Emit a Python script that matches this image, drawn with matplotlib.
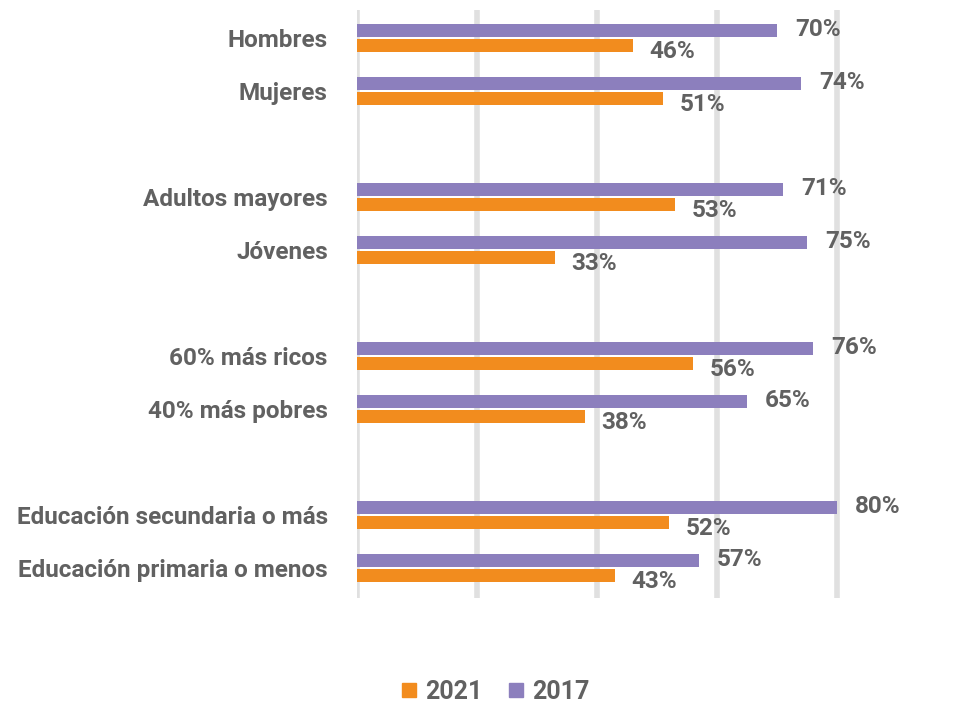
import matplotlib
matplotlib.use("Agg")
import matplotlib.pyplot as plt
from matplotlib.lines import Line2D

plt.rcParams['font.family'] = ['Roboto', 'DejaVu Sans']

categories = ["Hombres", "Mujeres", "Adultos mayores", "Jóvenes",
              "60% más ricos", "40% más pobres",
              "Educación secundaria o más", "Educación primaria o menos"]
positions = [0, 1, 3, 4, 6, 7, 9, 10]
values_2017 = [70, 74, 71, 75, 76, 65, 80, 57]
values_2021 = [46, 51, 53, 33, 56, 38, 52, 43]
ticks_x = [0, 20, 40, 60, 80]

c2017 = "#8c7fbd"
c2021 = "#f28c1e"
grey = "#616161"
fs = 17.5

fig = plt.figure(figsize=(9.54, 7.05), dpi=100)
ax = fig.add_axes([357/954, 1 - 598/705, 492/954, 588/705])

h = 0.25
off = 0.14
y17 = [p - off for p in positions]
y21 = [p + off for p in positions]
ax.barh(y17, values_2017, height=h, color=c2017, zorder=3)
ax.barh(y21, values_2021, height=h, color=c2021, zorder=3)

for y, v in zip(y17, values_2017):
    ax.annotate(f"{v}%", (v, y), xytext=(13, 0.5), textcoords="offset points",
                ha="left", va="center", fontsize=fs, fontweight="bold", color=grey)
for y, v in zip(y21, values_2021):
    ax.annotate(f"{v}%", (v, y), xytext=(12, -4.5), textcoords="offset points",
                ha="left", va="center", fontsize=fs, fontweight="bold", color=grey)

ax.set_xlim(0, 82)
ax.set_ylim(10.57, -0.53)
ax.set_xticks(ticks_x)
ax.set_xticklabels([])
ax.grid(axis="x", color="#e0e0e0", linewidth=4, zorder=0)
ax.set_axisbelow(True)
ax.set_yticks(positions)
ax.set_yticklabels(categories, fontsize=fs, fontweight="bold", color=grey)
ax.tick_params(axis="both", length=0)
ax.tick_params(axis="y", pad=21)
for s in ax.spines.values():
    s.set_visible(False)

handles = [Line2D([], [], marker="s", linestyle="none", markersize=9.5, color=c2021),
           Line2D([], [], marker="s", linestyle="none", markersize=9.5, color=c2017)]
leg = fig.legend(handles, ["2021", "2017"], loc="center", bbox_to_anchor=(495/954, 1 - 692/705),
                 ncol=2, frameon=False, handlelength=0.7, handletextpad=0.3, columnspacing=1.0,
                 prop={"size": 18, "weight": "bold"})
for t in leg.get_texts():
    t.set_color(grey)

fig.savefig("out.png", dpi=100, facecolor="white")
